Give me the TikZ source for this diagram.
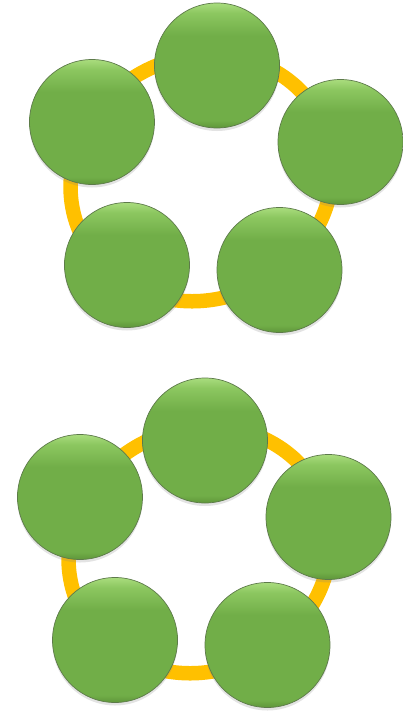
\documentclass[tikz,border=0pt]{standalone}
\usetikzlibrary{shadows}
\definecolor{gdark}{HTML}{5F963A}
\definecolor{gmain}{HTML}{71AE48}
\definecolor{glight}{HTML}{8CC760}
\definecolor{glighter}{HTML}{A9DC7E}
\definecolor{ballline}{HTML}{5D7A4A}
\definecolor{ringcol}{HTML}{FFC000}
\pgfdeclareverticalshading{ballshade}{100bp}{color(0bp)=(gdark); color(25bp)=(gdark); color(28bp)=(gmain); color(62bp)=(gmain); color(71bp)=(glight); color(75bp)=(glighter); color(100bp)=(glighter)}
\begin{document}
\begin{tikzpicture}[x=1pt,y=-1pt,
  ball/.style={circle, minimum size=125pt, inner sep=0pt, draw=ballline, line width=0.7pt,
    shading=ballshade, drop shadow={opacity=0.22, shadow xshift=0pt, shadow yshift=-3pt}},
  ring/.style={draw=ringcol, line width=14.5pt}]
\useasboundingbox (0,0) rectangle (403,712);
\foreach \g/\dx/\dy/\rx/\ry in {a/0/0/0/0, b/-12/375/-2/372} {
  \begin{scope}[shift={(\rx,\ry)}]
    \draw[ring] (201.5,178) ellipse [x radius=133, y radius=121, rotate=25];
  \end{scope}
  \begin{scope}[shift={(\dx,\dy)}]
    \node[ball] (\g1) at (217,65.5) {};
    \node[ball] (\g2) at (92,122) {};
    \node[ball] (\g3) at (340.5,142) {};
    \node[ball] (\g4) at (127,265) {};
    \node[ball] (\g5) at (279.5,270) {};
  \end{scope}
}
\end{tikzpicture}
\end{document}
